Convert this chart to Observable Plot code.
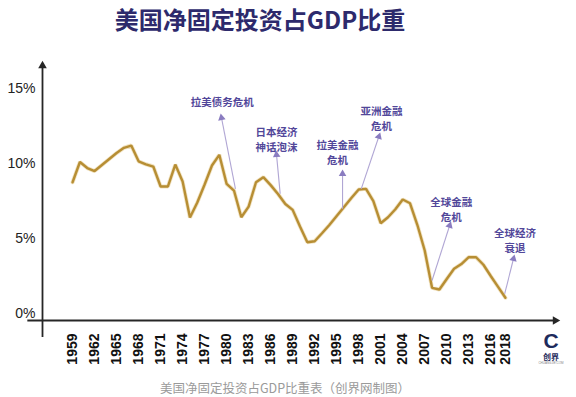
<!DOCTYPE html>
<html><head><meta charset="utf-8">
<script src="https://cdn.jsdelivr.net/npm/d3@7"></script>
<script src="https://cdn.jsdelivr.net/npm/@observablehq/plot@0.6"></script>
<style>
body{margin:0;background:#fff;}
#wrap{position:relative;width:576px;height:397px;overflow:hidden;font-family:"Noto Sans CJK SC","Noto Sans",sans-serif;background:#fff;}
#title{position:absolute;left:0;top:2px;width:520px;text-align:center;font-size:24px;font-weight:bold;color:#2d2a6c;line-height:34px;}
#chart{position:absolute;left:0;top:40px;}
#caption{position:absolute;left:0;width:570px;top:379px;text-align:center;font-size:12.5px;color:#9a9a9a;line-height:18px;}
#logoC{position:absolute;left:538px;top:329px;width:26px;text-align:center;font-family:"Liberation Sans",sans-serif;font-weight:bold;font-size:21px;line-height:24px;color:#1e2b5c;}
#logoT{position:absolute;left:536px;top:351px;width:30px;text-align:center;font-size:8px;font-weight:bold;line-height:11px;color:#1e2b5c;}
#logoS{position:absolute;left:536px;top:361px;width:30px;text-align:center;font-size:3px;line-height:4px;color:#888;font-family:"Liberation Sans",sans-serif;}
</style></head>
<body>
<div id="wrap">
  <div id="title">美国净固定投资占GDP比重</div>
  <div id="chart"></div>
  <div id="caption">美国净固定投资占GDP比重表（创界网制图）</div>
  <div id="logoC">C</div>
  <div id="logoT">创界</div>
  <div id="logoS">CHUANGJIE.COM</div>
</div>
<script>
const years = [1959,1960,1961,1962,1963,1964,1965,1966,1967,1968,1969,1970,1971,1972,1973,1974,1975,1976,1977,1978,1979,1980,1981,1982,1983,1984,1985,1986,1987,1988,1989,1990,1991,1992,1993,1994,1995,1996,1997,1998,1999,2000,2001,2002,2003,2004,2005,2006,2007,2008,2009,2010,2011,2012,2013,2014,2015,2016,2017,2018];
const values = [8.75,10.1,9.7,9.5,9.9,10.3,10.7,11.05,11.2,10.15,9.95,9.8,8.47,8.47,9.93,8.8,6.4,7.4,8.6,9.87,10.58,8.64,8.2,6.42,7.13,8.75,9.09,8.56,7.97,7.3,6.91,5.8,4.75,4.82,5.35,5.9,6.5,7.1,7.7,8.27,8.31,7.5,6.02,6.42,6.95,7.6,7.35,5.9,4.2,1.71,1.6,2.3,2.98,3.3,3.76,3.75,3.25,2.5,1.78,1.05];
const tickYears = [1959,1962,1965,1968,1971,1974,1977,1980,1983,1986,1989,1992,1995,1998,2001,2004,2007,2010,2013,2016,2018];
const yTicks = [0,5,10,15];
const annLabels = ["拉美债务危机","日本经济\n神话泡沫","拉美金融\n危机","亚洲金融\n危机","全球金融\n危机","全球经济\n衰退"];
const annTailYear = [1981.2,1987.3,1995.8,1998.35,2008.0,2017.9];
const annTailValue = [8.31,7.98,6.98,8.31,2.2,1.31];
const annHeadYear = [1979.3,1986.8,1995.8,2000.75,2010.4,2019.1];
const annHeadValue = [13.05,10.58,9.31,11.8,5.87,3.65];
const annTextYear = [1979.4,1986.8,1995.1,2001.1,2010.6,2019.3];
const annTextValue = [14.15,11.64,10.78,13.07,6.98,4.9];

const series = years.map((y,i)=>({year:y, value:values[i]}));
const W = 576, H = 335, mL = 42, mR = 19, mT = 23, mB = 55;
const xDomain = [1954.9, 2025.1], yDomain = [-0.467, 16.67];
const xs = Plot.scale({x:{domain:xDomain, range:[mL, W-mR]}});
const ys = Plot.scale({y:{domain:yDomain, range:[H-mB, mT]}});
const anns = annLabels.map((l,i)=>{
  const tx = xs.apply(annTailYear[i]), ty = ys.apply(annTailValue[i]);
  const hx = xs.apply(annHeadYear[i]), hy = ys.apply(annHeadValue[i]);
  const ang = Math.atan2(hx-tx, ty-hy)*180/Math.PI;
  return {label:l, tx:annTailYear[i], tv:annTailValue[i], hx:annHeadYear[i], hv:annHeadValue[i],
          lx:annTextYear[i], lv:annTextValue[i], ang};
});
const axisColor = "#262626";
const plot = Plot.plot({
  width: W, height: H,
  marginLeft: mL, marginRight: mR, marginTop: mT, marginBottom: mB,
  x: {domain: xDomain},
  y: {domain: yDomain},
  style: {fontFamily: '"Liberation Sans", Arial, sans-serif', background: "transparent", overflow: "visible"},
  marks: [
    Plot.axisY({ticks: yTicks, tickSize: 0, tickPadding: 7, tickFormat: d => d + "%", fontSize: 14, label: null, fill: "#222"}),
    Plot.axisX({ticks: tickYears, tickRotate: -90, tickSize: 0, tickPadding: 13, tickFormat: d => String(d), fontSize: 14, fontWeight: "bold", label: null, fill: "#111"}),
    Plot.ruleX([xDomain[0]], {y1: -1.6, y2: yDomain[1] - 0.3, stroke: axisColor, strokeWidth: 1.8}),
    Plot.ruleY([yDomain[0]], {x1: 1952.9, x2: xDomain[1] - 0.5, stroke: axisColor, strokeWidth: 1.8}),
    Plot.dot([{x: xDomain[0], y: yDomain[1] - 0.15}], {x: "x", y: "y", symbol: "triangle", r: 3.2, fill: axisColor, stroke: null}),
    Plot.dot([{x: xDomain[1] - 0.3, y: yDomain[0]}], {x: "x", y: "y", symbol: "triangle", r: 3.2, fill: axisColor, stroke: null, rotate: 90}),
    Plot.line(series, {x: "year", y: "value", stroke: "#e8d19a", strokeWidth: 4, strokeLinejoin: "miter", strokeOpacity: 0.6}),
    Plot.line(series, {x: "year", y: "value", stroke: "#b78e34", strokeWidth: 2.4, strokeLinejoin: "miter"}),
    Plot.link(anns, {x1: "tx", y1: "tv", x2: "hx", y2: "hv", stroke: "#b0a6d4", strokeWidth: 1.1}),
    Plot.dot(anns, {x: "hx", y: "hv", symbol: "triangle", r: 2.8, fill: "#8a7cc0", stroke: null, rotate: "ang"}),
    Plot.text(anns, {x: "lx", y: "lv", text: "label", lineAnchor: "middle", textAnchor: "middle", fontSize: 10.5, fontWeight: "bold", lineHeight: 1.45, fill: "#52479a", fontFamily: '"Noto Sans CJK SC", sans-serif'})
  ]
});
document.getElementById("chart").appendChild(plot);
</script>
</body></html>
